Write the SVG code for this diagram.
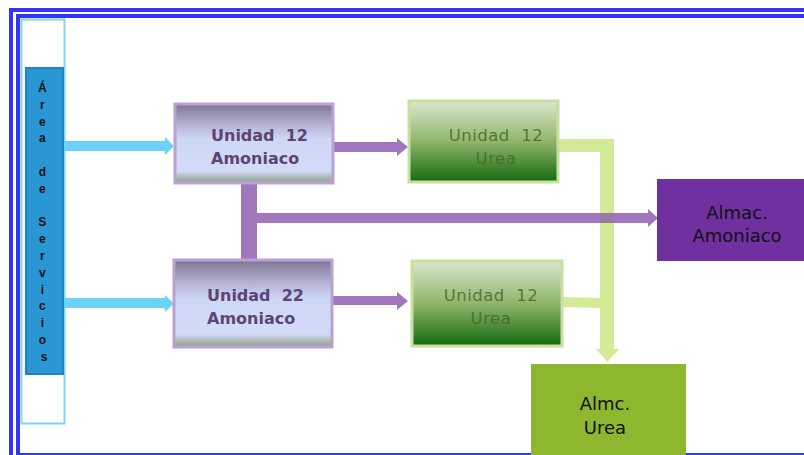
<svg xmlns="http://www.w3.org/2000/svg" width="804" height="455" viewBox="0 0 804 455">
<defs>
<linearGradient id="gAm" x1="0" y1="0" x2="0" y2="1">
<stop offset="0" stop-color="#7d7390"/>
<stop offset="0.25" stop-color="#b3b0d0"/>
<stop offset="0.45" stop-color="#cfd7f7"/>
<stop offset="0.85" stop-color="#d3dbf8"/>
<stop offset="0.93" stop-color="#aab8b4"/>
<stop offset="1" stop-color="#8f9f90"/>
</linearGradient>
<linearGradient id="gUr" x1="0" y1="0" x2="0" y2="1">
<stop offset="0" stop-color="#dae7cc"/>
<stop offset="0.5" stop-color="#8fb56c"/>
<stop offset="1" stop-color="#146a0e"/>
</linearGradient>
<style>
.frame{fill:none;stroke:#3333ff;stroke-width:4}
.am{fill:url(#gAm);stroke:#b9a2d3;stroke-width:3}
.ur{fill:url(#gUr);stroke:#c9dfa2;stroke-width:3}
.amt{font-family:"DejaVu Sans",sans-serif;font-weight:bold;font-size:16px;fill:#5c4476}
.urt{font-family:"DejaVu Sans",sans-serif;font-size:16.5px;fill:#4a6628;fill-opacity:0.85;letter-spacing:0.5px;text-anchor:middle}
.st{font-family:"DejaVu Sans",sans-serif;font-size:18px;fill:#111;text-anchor:middle}
.sv{font-family:"Liberation Sans",Arial,sans-serif;font-weight:bold;font-size:12px;fill:#111;text-anchor:middle}
</style>
</defs>
<rect width="804" height="455" fill="#fff"/>
<g id="frame">
<rect class="frame" x="11" y="10" width="820" height="470"/>
<rect class="frame" x="18" y="16" width="810" height="439"/>
<rect x="21.5" y="19.5" width="43" height="404" fill="none" stroke="#7dd4f4" stroke-width="2"/>
</g>
<g id="connectors">
<polygon fill="#6dd3f6" points="60,141 165,141 165,137 174,146 165,155 165,151 60,151"/>
<polygon fill="#6dd3f6" points="60,298 165,298 165,295 174,303.5 165,312 165,308 60,308"/>
<polygon fill="#d3ea97" points="559,139 614,139 614,349 619,349 607.5,362 596,349 600,349 600,152 559,152"/>
<polygon fill="#d3ea97" points="563,297 600,298 600,295 613,303.5 600,312 600,308 563,307"/>
<polygon fill="#a077bc" points="334,142 397,142 397,138 408,147 397,156 397,152 334,152"/>
<polygon fill="#a077bc" points="333,296 397,296 397,292 408,301 397,310 397,305 333,305"/>
<polygon fill="#a077bc" points="241,184 257,184 257,213 648,213 648,209 658,218 648,227 648,223 257,223 257,259 241,259"/>
<rect x="600" y="213" width="14" height="10" fill="#9a7aa5"/>
</g>
<g id="servicios">
<rect x="26" y="68" width="37" height="306" fill="#2a97d5" stroke="#2184c2" stroke-width="2"/>
<text class="sv">
<tspan x="44" y="92">Á</tspan>
<tspan x="44" y="108.8">r</tspan>
<tspan x="44" y="125.6">e</tspan>
<tspan x="44" y="142.4">a</tspan>
<tspan x="44" y="176">d</tspan>
<tspan x="44" y="192.8">e</tspan>
<tspan x="44" y="226.4">S</tspan>
<tspan x="44" y="243.2">e</tspan>
<tspan x="44" y="260">r</tspan>
<tspan x="44" y="276.8">v</tspan>
<tspan x="44" y="293.6">i</tspan>
<tspan x="44" y="310.4">c</tspan>
<tspan x="44" y="327.2">i</tspan>
<tspan x="44" y="344">o</tspan>
<tspan x="44" y="360.8">s</tspan>
</text>
</g>
<g id="u12am">
<rect class="am" x="175" y="104" width="158" height="79"/>
<text class="amt" xml:space="preserve"><tspan x="211" y="141">Unidad  12</tspan><tspan x="211" y="164">Amoniaco</tspan></text>
</g>
<g id="u22am">
<rect class="am" x="174" y="260" width="158" height="87"/>
<text class="amt" xml:space="preserve"><tspan x="207" y="301">Unidad  22</tspan><tspan x="207" y="324">Amoniaco</tspan></text>
</g>
<g id="u12ur">
<rect class="ur" x="409" y="101" width="149" height="81"/>
<text class="urt" xml:space="preserve"><tspan x="496" y="141">Unidad  12</tspan><tspan x="496" y="164">Urea</tspan></text>
</g>
<g id="u12ur2">
<rect class="ur" x="412" y="261" width="150" height="85"/>
<text class="urt" xml:space="preserve"><tspan x="491" y="301">Unidad  12</tspan><tspan x="491" y="324">Urea</tspan></text>
</g>
<g id="almam">
<rect x="657" y="179" width="150" height="82" fill="#7030a0"/>
<text class="st"><tspan x="737" y="218.5">Almac.</tspan><tspan x="737" y="241.5">Amoniaco</tspan></text>
</g>
<g id="almur">
<rect x="531" y="364" width="155" height="91" fill="#8eb730"/>
<text class="st"><tspan x="605" y="409.5">Almc.</tspan><tspan x="605" y="433.5">Urea</tspan></text>
</g>
</svg>
